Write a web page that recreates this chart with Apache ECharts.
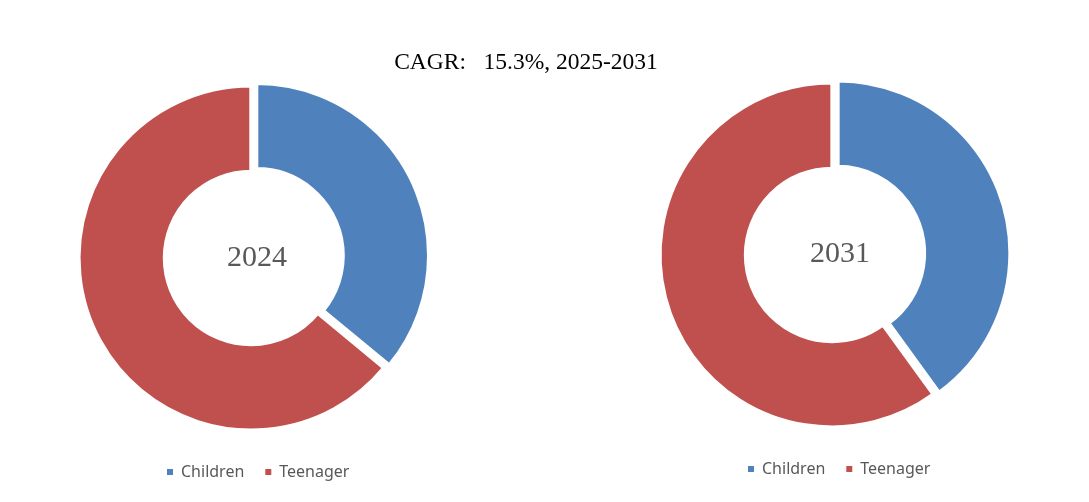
<!DOCTYPE html>
<html>
<head>
<meta charset="utf-8">
<script src="https://cdn.jsdelivr.net/npm/echarts@6/dist/echarts.min.js"></script>
<style>html,body{margin:0;padding:0;background:#fff}#c{width:1089px;height:502px}</style>
</head>
<body>
<div id="c"></div>
<script>
const categories = ['Children', 'Teenager'];
const years = ['2024', '2031'];
const share2024 = [36, 64];
const share2031 = [40, 60];
const titleText = 'CAGR:   15.3%, 2025-2031';
const colors = ['#4F81BD', '#C0504D'];

const chart = echarts.init(document.getElementById('c'));
const toData = arr => categories.map((n, i) => ({ name: n, value: arr[i], selected: true }));
const legendStyle = {
  icon: 'rect', itemWidth: 8, itemHeight: 8, itemGap: 19, selectedMode: false,
  textStyle: { color: '#595959', fontSize: 16, fontFamily: 'Noto Sans', padding: [0, 0, 0, 2] }
};
const pieStyle = {
  type: 'pie', radius: [86.5, 172.3], startAngle: 90,
  selectedMode: 'multiple', selectedOffset: 3,
  label: { show: false }, labelLine: { show: false },
  itemStyle: { borderColor: '#fff', borderWidth: 3.6 },
  select: { itemStyle: { borderColor: '#fff', borderWidth: 3.6 } },
  emphasis: { disabled: true }
};
chart.setOption({
  color: colors,
  animation: false,
  title: [
    { text: titleText, left: 521, top: 46, textAlign: 'center',
      textStyle: { fontFamily: 'Liberation Serif', fontSize: 23.5, fontWeight: 'normal', color: '#000' } },
    { text: years[0], left: 252, top: 238, textAlign: 'center',
      textStyle: { fontFamily: 'Liberation Serif', fontSize: 30, fontWeight: 'normal', color: '#595959' } },
    { text: years[1], left: 835, top: 234, textAlign: 'center',
      textStyle: { fontFamily: 'Liberation Serif', fontSize: 30, fontWeight: 'normal', color: '#595959' } }
  ],
  legend: [
    Object.assign({ data: categories, left: 160, top: 459 }, legendStyle),
    Object.assign({ data: categories, left: 741, top: 456 }, legendStyle)
  ],
  series: [
    Object.assign({ name: years[0], center: [253.8, 256.7], data: toData(share2024) }, pieStyle),
    Object.assign({ name: years[1], center: [835, 254], data: toData(share2031) }, pieStyle)
  ]
});
</script>
</body>
</html>
